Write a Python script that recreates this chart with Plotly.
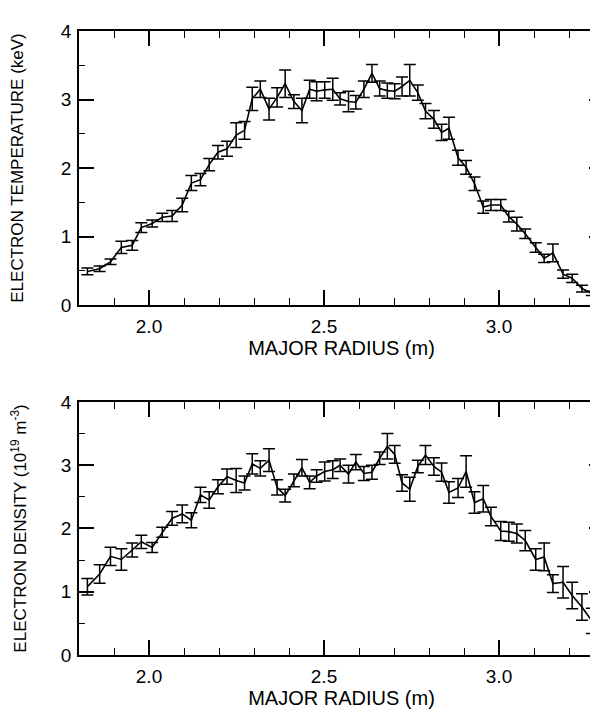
import plotly.graph_objects as go

# Major radius (m) of each measurement point (same grid for both panels)
radius = [1.824, 1.859, 1.890, 1.921, 1.952, 1.978, 2.009, 2.038, 2.066, 2.095,
          2.121, 2.147, 2.172, 2.197, 2.223, 2.249, 2.273, 2.295, 2.318, 2.343,
          2.366, 2.389, 2.414, 2.437, 2.459, 2.479, 2.502, 2.525, 2.546, 2.570,
          2.591, 2.614, 2.637, 2.659, 2.681, 2.702, 2.723, 2.745, 2.768, 2.790,
          2.814, 2.836, 2.857, 2.883, 2.906, 2.930, 2.955, 2.977, 3.005, 3.028,
          3.051, 3.075, 3.105, 3.129, 3.154, 3.183, 3.209, 3.237, 3.265, 3.296]

# Electron temperature (keV) and its error
te = [0.49, 0.53, 0.63, 0.84, 0.87, 1.13, 1.19, 1.28, 1.30, 1.46,
      1.78, 1.83, 2.05, 2.23, 2.28, 2.48, 2.55, 3.01, 3.15, 2.86,
      3.03, 3.23, 2.97, 2.84, 3.15, 3.12, 3.14, 3.15, 3.01, 2.97,
      2.96, 3.15, 3.38, 3.16, 3.13, 3.12, 3.19, 3.28, 3.10, 2.83,
      2.71, 2.52, 2.58, 2.15, 2.01, 1.77, 1.43, 1.46, 1.46, 1.29,
      1.18, 1.04, 0.84, 0.68, 0.76, 0.45, 0.39, 0.24, 0.17, 0.06]
te_err = [0.05, 0.04, 0.04, 0.09, 0.07, 0.07, 0.05, 0.06, 0.08, 0.10,
          0.11, 0.09, 0.09, 0.10, 0.11, 0.18, 0.13, 0.17, 0.12, 0.16,
          0.14, 0.20, 0.10, 0.18, 0.13, 0.14, 0.12, 0.16, 0.09, 0.15,
          0.10, 0.12, 0.13, 0.11, 0.11, 0.11, 0.14, 0.23, 0.11, 0.11,
          0.13, 0.12, 0.16, 0.11, 0.10, 0.10, 0.09, 0.08, 0.08, 0.08,
          0.10, 0.07, 0.07, 0.06, 0.13, 0.06, 0.06, 0.05, 0.03, 0.02]

# Electron density (10^19 m^-3) and its error
ne = [1.08, 1.28, 1.56, 1.51, 1.66, 1.79, 1.70, 1.94, 2.16, 2.23,
      2.13, 2.53, 2.45, 2.66, 2.82, 2.76, 2.72, 3.02, 2.95, 3.08,
      2.65, 2.52, 2.76, 2.96, 2.73, 2.83, 2.90, 2.93, 3.00, 2.86,
      3.05, 2.87, 2.89, 3.11, 3.30, 3.17, 2.72, 2.62, 2.98, 3.16,
      2.98, 2.89, 2.57, 2.64, 2.90, 2.41, 2.47, 2.19, 1.96, 1.95,
      1.92, 1.81, 1.51, 1.55, 1.13, 1.15, 0.94, 0.76, 0.54, 0.27]
ne_err = [0.13, 0.145, 0.145, 0.17, 0.11, 0.105, 0.08, 0.08, 0.11, 0.14,
          0.12, 0.12, 0.13, 0.11, 0.12, 0.19, 0.11, 0.16, 0.12, 0.18,
          0.12, 0.10, 0.10, 0.13, 0.10, 0.10, 0.15, 0.14, 0.10, 0.14,
          0.12, 0.11, 0.11, 0.10, 0.20, 0.14, 0.13, 0.19, 0.10, 0.15,
          0.14, 0.145, 0.17, 0.15, 0.25, 0.17, 0.21, 0.145, 0.15, 0.15,
          0.15, 0.16, 0.17, 0.22, 0.14, 0.25, 0.21, 0.21, 0.20, 0.20]

FONT = "Liberation Sans, Arial, Helvetica, sans-serif"

fig = go.Figure()
for xs, ys, errs, xa, ya in [(radius, te, te_err, "x", "y"),
                             (radius, ne, ne_err, "x2", "y2")]:
    fig.add_trace(go.Scatter(
        x=xs, y=ys, mode="lines", xaxis=xa, yaxis=ya,
        line=dict(color="black", width=1.6),
        error_y=dict(type="data", array=errs, visible=True,
                     color="black", thickness=1.5, width=6),
        showlegend=False, hoverinfo="skip"))

def xaxis(anchor):
    return dict(
        anchor=anchor, range=[1.8, 3.3],
        showline=True, linecolor="black", linewidth=1.5, mirror="ticks",
        ticks="inside", ticklen=15, tickwidth=1.5, tickcolor="black",
        tick0=0, dtick=0.5, tickformat=".1f",
        minor=dict(ticks="inside", ticklen=7, tickwidth=1.2,
                   tickcolor="black", tick0=0, dtick=0.1),
        showgrid=False, zeroline=False,
        tickfont=dict(family=FONT, size=19, color="black"),
        ticklabelstandoff=3,
        title=dict(text="MAJOR RADIUS (m)",
                   font=dict(family=FONT, size=20, color="black"),
                   standoff=3),
    )

def yaxis(domain, anchor, title):
    return dict(
        domain=domain, anchor=anchor, range=[0, 4],
        showline=True, linecolor="black", linewidth=1.5, mirror="ticks",
        ticks="inside", ticklen=15, tickwidth=1.5, tickcolor="black",
        tick0=0, dtick=1,
        minor=dict(ticks="inside", ticklen=6, tickwidth=1.2,
                   tickcolor="black", tick0=0, dtick=0.5),
        showgrid=False, zeroline=False,
        tickfont=dict(family=FONT, size=19, color="black"),
        ticklabelstandoff=2,
        title=dict(text=title,
                   font=dict(family=FONT, size=17, color="black"),
                   standoff=40),
    )

fig.update_layout(
    width=598, height=709,
    margin=dict(l=71, r=0, t=23, b=62),
    paper_bgcolor="white", plot_bgcolor="white",
    xaxis=xaxis("y"),
    yaxis=yaxis([0.5609, 1.0], "x", "ELECTRON TEMPERATURE (keV)"),
    xaxis2=xaxis("y2"),
    yaxis2=yaxis([0.0, 0.4055], "x2",
                 "ELECTRON DENSITY (10<sup>19</sup> m<sup>-3</sup>)"),
)

fig.write_html("out.html")
